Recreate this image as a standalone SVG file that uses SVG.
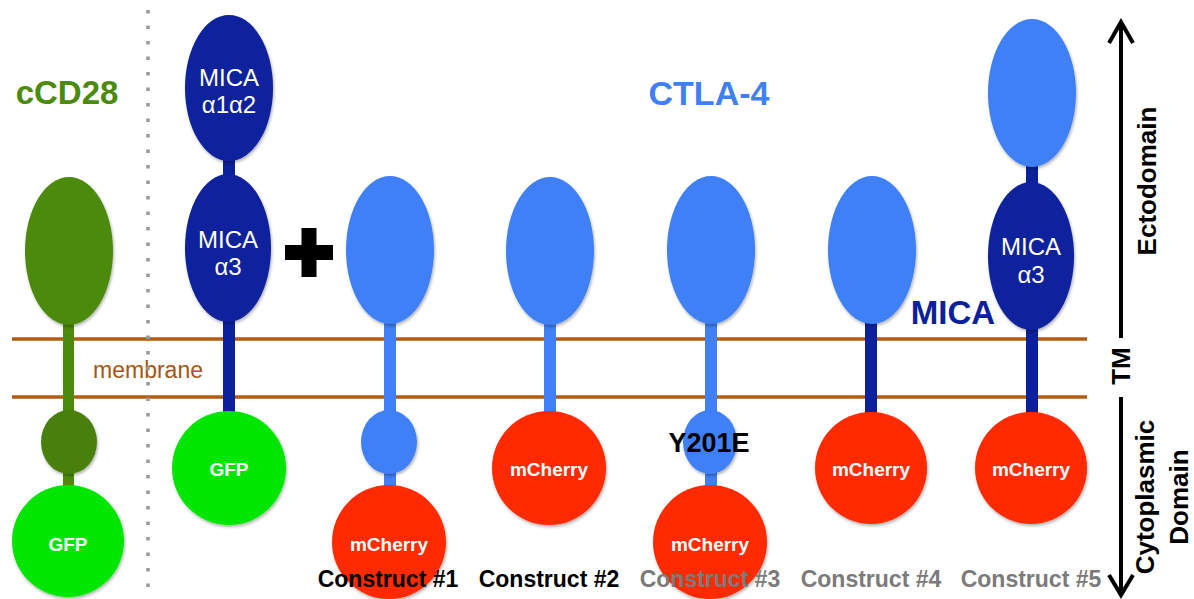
<svg xmlns="http://www.w3.org/2000/svg" width="1194" height="599" viewBox="0 0 1194 599">
<defs>
<filter id="sh" x="-20%" y="-20%" width="140%" height="140%">
<feDropShadow dx="1" dy="2" stdDeviation="1.5" flood-color="#000" flood-opacity="0.3"/>
</filter>
<style>
text{font-family:"Liberation Sans",Arial,sans-serif}
.b{font-weight:bold}
.w{fill:#fff}
.lb{fill:#3f80f6}
.db{fill:#0b209c}
.dg{fill:#4b8a0b}
.gg{fill:#00e600}
.rd{fill:#ff2a00}
.sh{filter:url(#sh)}
.mem{stroke:#b45d10;stroke-width:3.5;fill:none}
.lbl{font-size:23px;font-weight:bold;text-anchor:middle}
.in{font-size:24px;text-anchor:middle;fill:#fff}
.fp{font-size:19px;font-weight:bold;text-anchor:middle;fill:#fff}
.ax{stroke:#000;stroke-width:4;fill:none}
.rt{font-size:26px;font-weight:bold;text-anchor:middle;fill:#000}
</style>
</defs>
<rect width="1194" height="599" fill="#fff"/>

<g id="membrane">
<line class="mem" x1="12" y1="339" x2="1087" y2="339"/>
<line class="mem" x1="12" y1="397" x2="1087" y2="397"/>
<text x="148" y="378" font-size="23" fill="#a65512" text-anchor="middle">membrane</text>
</g>

<line id="divider" x1="148" y1="10" x2="148" y2="599" stroke="#999" stroke-width="3.5" stroke-dasharray="3.5 12"/>

<g id="titles">
<text x="67" y="104" class="b" font-size="33" fill="#4b8a0b" text-anchor="middle">cCD28</text>
<text x="709" y="105" class="b" font-size="34" fill="#3f80f6" text-anchor="middle">CTLA-4</text>
<text x="953" y="324" class="b" font-size="33" fill="#0b209c" text-anchor="middle">MICA</text>
<path d="M309 228v49M285 252.5h48" stroke="#000" stroke-width="15" fill="none"/>
</g>

<g id="connectors">
<rect class="dg" x="63" y="320" width="11" height="170"/>
<rect class="db" x="223" y="150" width="12" height="270"/>
<rect class="lb" x="384" y="320" width="12" height="170"/>
<rect class="lb" x="544" y="320" width="12" height="100"/>
<rect class="lb" x="705" y="320" width="12" height="170"/>
<rect class="db" x="865" y="320" width="12" height="100"/>
<rect class="db" x="1026" y="160" width="12" height="260"/>
</g>

<g id="cCD28">
<ellipse class="dg sh" cx="69" cy="251" rx="44" ry="74"/>
<ellipse class="sh" fill="#4a7f0e" cx="69" cy="442" rx="28" ry="32"/>
<circle class="gg sh" cx="68" cy="541" r="56"/>
<text class="fp" x="68" y="551">GFP</text>
</g>

<g id="mica-gfp">
<ellipse class="db sh" cx="229" cy="88" rx="44" ry="73"/>
<text class="in" x="229" y="86">MICA</text>
<text class="in" x="229" y="113">α1α2</text>
<ellipse class="db sh" cx="228" cy="248" rx="43" ry="74"/>
<text class="in" x="228" y="248">MICA</text>
<text class="in" x="228" y="275">α3</text>
<circle class="gg sh" cx="229" cy="468" r="57"/>
<text class="fp" x="229" y="476">GFP</text>
</g>

<g id="construct1">
<ellipse class="lb sh" cx="390" cy="250" rx="44" ry="74"/>
<ellipse class="lb sh" cx="389" cy="442" rx="28" ry="32"/>
<circle class="rd sh" cx="389" cy="542" r="57"/>
<text class="fp" x="389" y="551">mCherry</text>
<text class="lbl" x="388" y="587" fill="#000">Construct #1</text>
</g>

<g id="construct2">
<ellipse class="lb sh" cx="550" cy="251" rx="44" ry="74"/>
<circle class="rd sh" cx="549" cy="468" r="57"/>
<text class="fp" x="549" y="476">mCherry</text>
<text class="lbl" x="549" y="587" fill="#000">Construct #2</text>
</g>

<g id="construct3">
<ellipse class="lb sh" cx="711" cy="250" rx="44" ry="74"/>
<ellipse class="lb sh" cx="710" cy="442" rx="27" ry="32"/>
<text x="709" y="452" class="b" font-size="27" fill="#000" text-anchor="middle">Y201E</text>
<circle class="rd sh" cx="710" cy="542" r="57"/>
<text class="fp" x="710" y="551">mCherry</text>
<text class="lbl" x="710" y="587" fill="#7b7b7b">Construct #3</text>
</g>

<g id="construct4">
<ellipse class="lb sh" cx="872" cy="250" rx="44" ry="74"/>
<circle class="rd sh" cx="871" cy="468" r="56"/>
<text class="fp" x="871" y="476">mCherry</text>
<text class="lbl" x="871" y="587" fill="#7b7b7b">Construct #4</text>
</g>

<g id="construct5">
<ellipse class="lb sh" cx="1032" cy="93" rx="44" ry="74"/>
<ellipse class="db sh" cx="1031" cy="256" rx="43" ry="74"/>
<text class="in" x="1031" y="255">MICA</text>
<text class="in" x="1031" y="283">α3</text>
<circle class="rd sh" cx="1031" cy="468" r="56"/>
<text class="fp" x="1031" y="476">mCherry</text>
<text class="lbl" x="1031" y="587" fill="#7b7b7b">Construct #5</text>
</g>

<g id="axis">
<line class="ax" x1="1121" y1="22" x2="1121" y2="338"/>
<polyline class="ax" points="1109,43 1121,22 1133,43"/>
<line class="ax" x1="1121" y1="397" x2="1121" y2="595"/>
<polyline class="ax" points="1109,575 1121,595 1133,575"/>
<text class="rt" transform="translate(1130,366) rotate(-90)">TM</text>
<text class="rt" transform="translate(1156,181) rotate(-90)">Ectodomain</text>
<text class="rt" transform="translate(1154,497) rotate(-90)">Cytoplasmic</text>
<text class="rt" transform="translate(1188,497) rotate(-90)">Domain</text>
</g>
</svg>
